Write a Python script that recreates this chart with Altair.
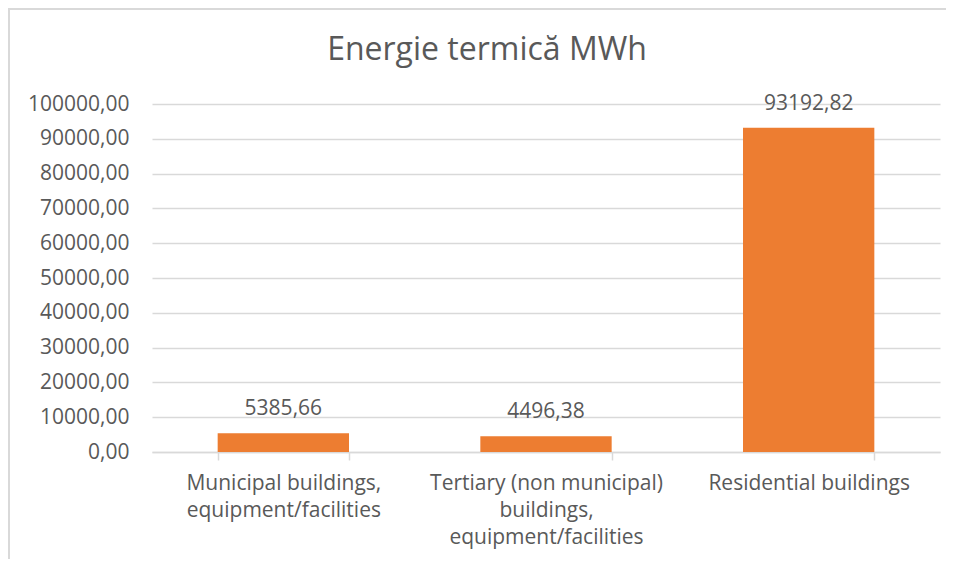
import altair as alt
import pandas as pd

categories = [
    "Municipal buildings,\nequipment/facilities",
    "Tertiary (non municipal)\nbuildings,\nequipment/facilities",
    "Residential buildings",
]
values = [5385.66, 4496.38, 93192.82]
labels = ["5385,66", "4496,38", "93192,82"]
y_ticks = list(range(0, 100001, 10000))

df = pd.DataFrame({"cat": categories, "val": values, "lab": labels})

FONT = "Open Sans"
TXT = "#595959"
GRID = "#d9d9d9"
FS = 21

x_enc = alt.X(
    "cat:N",
    sort=categories,
    scale=alt.Scale(paddingInner=0.5, paddingOuter=0.25),
    axis=alt.Axis(
        title=None,
        labelAngle=0,
        labelExpr="split(datum.label, '\\n')",
        labelFont=FONT,
        labelFontSize=FS,
        labelColor=TXT,
        labelLineHeight=27,
        labelPadding=12,
        labelLimit=400,
        domainColor=GRID,
        domainWidth=1.5,
        tickColor=GRID,
        tickWidth=1.5,
        tickSize=8,
        tickBand="extent",
        grid=False,
    ),
)

y_enc = alt.Y(
    "val:Q",
    scale=alt.Scale(domain=[0, 100000], nice=False),
    axis=alt.Axis(
        title=None,
        values=y_ticks,
        labelOverlap=False,
        labelExpr="replace(format(datum.value, '.2f'), '.', ',')",
        labelFont=FONT,
        labelFontSize=FS,
        labelColor=TXT,
        labelPadding=23,
        domain=False,
        ticks=False,
        gridColor=GRID,
        gridWidth=1.5,
    ),
)

bars = alt.Chart(df).mark_bar(color="#ED7D31").encode(x=x_enc, y=y_enc)

text = alt.Chart(df).mark_text(
    font=FONT, fontSize=FS, color=TXT, baseline="alphabetic", dy=-18
).encode(x=x_enc, y=y_enc, text="lab:N")

frame_left = alt.Chart(df).mark_rule(color=GRID, strokeWidth=2).encode(
    x=alt.value(-143), y=alt.value(-96), y2=alt.value(460)
)
frame_top = alt.Chart(df).mark_rule(color=GRID, strokeWidth=2).encode(
    x=alt.value(-143), x2=alt.value(830), y=alt.value(-95)
)

chart = (
    alt.layer(frame_left, frame_top, bars, text)
    .properties(
        width=788,
        height=348,
        title=alt.TitleParams(
            "Energie termică MWh",
            font=FONT,
            fontSize=32,
            fontWeight="normal",
            color=TXT,
            anchor="middle",
            frame="group",
            baseline="alphabetic",
            offset=-85,
            dx=-59,
        ),
        autosize=alt.AutoSizeParams(type="none"),
        padding={"left": 144, "top": 96, "right": 6, "bottom": 107},
    )
    .configure_view(stroke=None)
)

chart.save("out.html", embed_options={"renderer": "svg", "actions": False})
